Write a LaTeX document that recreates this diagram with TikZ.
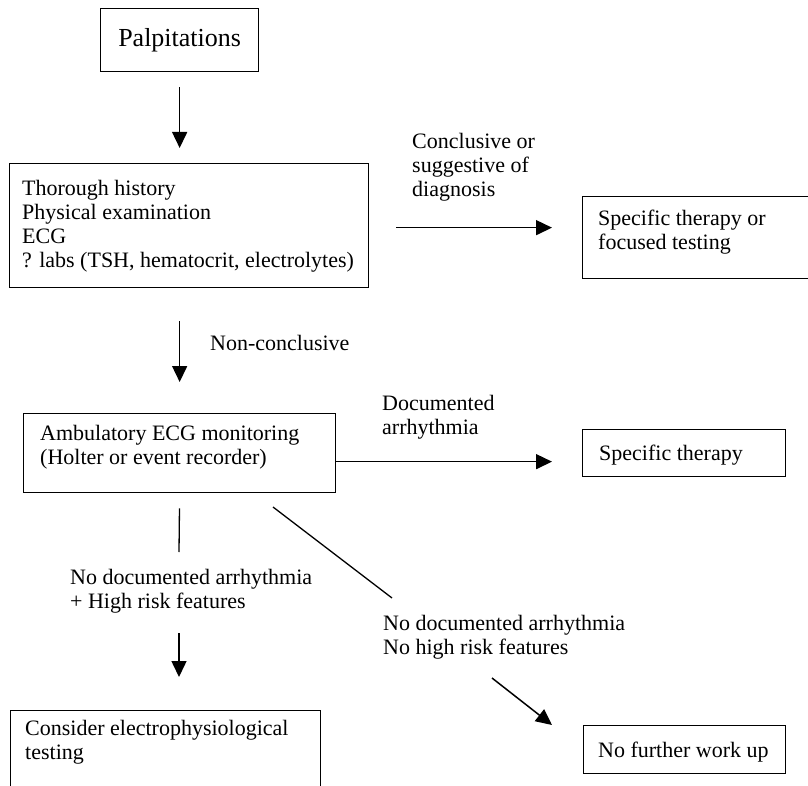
\documentclass[tikz,border=0pt]{standalone}
\usepackage{fontspec}
\setmainfont{Liberation Serif}
\usetikzlibrary{arrows.meta}
\tikzset{
  boxnode/.style={draw, line width=1.3pt, inner sep=0pt, anchor=north west},
  txt/.style={inner sep=0pt, align=left, anchor=north west, font=\fontsize{22}{24}\selectfont},
  arr/.style={line width=1.5pt, -{Triangle[length=16pt,width=15pt]}},
  plain/.style={line width=1.3pt}
}
\begin{document}
\begin{tikzpicture}[x=1pt,y=-1pt]
\useasboundingbox (0,0) rectangle (808,786);
% boxes
\node[boxnode, minimum width=158pt, minimum height=63pt, font=\fontsize{26}{28}\selectfont] (palp) at (100,8) {Palpitations};
\node[boxnode, minimum width=359pt, minimum height=124pt] (box2) at (9,163) {};
\node[boxnode, minimum width=233pt, minimum height=82pt] (spec1) at (582,196) {};
\node[boxnode, minimum width=312pt, minimum height=79pt] (amb) at (23,413) {};
\node[boxnode, minimum width=203pt, minimum height=47pt] (spec2) at (582,429) {};
\node[boxnode, minimum width=310pt, minimum height=90pt] (cons) at (10,710) {};
\node[boxnode, minimum width=202pt, minimum height=48pt] (nfw) at (583,725) {};
% texts
\node[txt] (box2t) at (22,180) {Thorough history\\Physical examination\\ECG\\? labs (TSH, hematocrit, electrolytes)};
\node[txt] (lconc) at (412,133) {Conclusive or\\suggestive of\\diagnosis};
\node[txt] (spec1t) at (598,210) {Specific therapy or\\focused testing};
\node[txt] (lnonc) at (210,335) {Non-conclusive};
\node[txt] (ldoc) at (382,395) {Documented\\arrhythmia};
\node[txt] (ambt) at (40,425) {Ambulatory ECG monitoring\\(Holter or event recorder)};
\node[txt] (spec2t) at (599,445) {Specific therapy};
\node[txt] (lhigh) at (70,569) {No documented arrhythmia\\+ High risk features};
\node[txt] (lnohigh) at (383,615) {No documented arrhythmia\\No high risk features};
\node[txt] (const) at (25,720) {Consider electrophysiological\\testing};
\node[txt] (nfwt) at (598,742) {No further work up};
% connectors
\draw[arr, shorten <=15pt, shorten >=15pt] (palp.south) -- (palp.south |- box2.north);
\draw[arr, shorten <=27pt, shorten >=30pt] ([yshift=-2pt]box2.east) -- ([yshift=-2pt]box2.east -| spec1.west);
\draw[arr, shorten <=33pt, shorten >=31pt] (box2.south -| amb.north) -- (amb.north);
\draw[arr, shorten >=30pt] ([yshift=-8.5pt]amb.east) -- ([yshift=-8.5pt]amb.east -| spec2.west);
\coordinate (c1) at (179,552);
\coordinate (c2) at (179,633);
\draw[plain, shorten <=15pt] (amb.south) -- (c1);
\draw[arr, shorten >=33pt] (c2) -- (c2 |- cons.north);
\coordinate (d1) at (273,507);
\coordinate (d2) at (392,598);
\coordinate (d3) at (492,678);
\draw[plain] (d1) -- (d2);
\draw[arr] (d3) -- ([xshift=-31pt]nfw.north west);
\end{tikzpicture}
\end{document}
